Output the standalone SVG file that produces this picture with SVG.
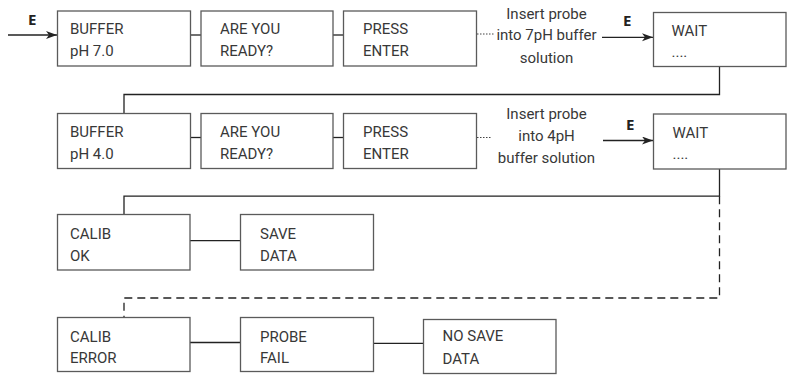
<svg xmlns="http://www.w3.org/2000/svg" width="791" height="375" viewBox="0 0 791 375">
<style>
.box{fill:#fff;stroke:#5a5a5a;stroke-width:1.3}
.t{font-family:Roboto,"Liberation Sans",sans-serif;font-size:15px;fill:#383838}
.c{font-family:Roboto,"Liberation Sans",sans-serif;font-size:15px;fill:#383838;text-anchor:middle}
.e{font-family:"Open Sans","Liberation Sans",sans-serif;font-size:15px;font-weight:bold;fill:#222}
.ln{fill:none;stroke:#222;stroke-width:1.3}
.dot{fill:none;stroke:#444;stroke-width:1.1;stroke-dasharray:1.5 1.5}
.dash{fill:none;stroke:#222;stroke-width:1.3;stroke-dasharray:8 5}
</style>
<defs>
<marker id="arr" markerWidth="12" markerHeight="10" refX="11" refY="4" orient="auto" markerUnits="userSpaceOnUse">
<path d="M0,0 L11,4 L0,8 L3,4 z" fill="#222"/>
</marker>
</defs>
<rect width="791" height="375" fill="#fff"/>
<g id="connectors">
<line class="ln" x1="8" y1="35" x2="57" y2="35" marker-end="url(#arr)"/>
<line class="ln" x1="190.5" y1="35" x2="201" y2="35"/>
<line class="ln" x1="333" y1="35" x2="343.5" y2="35"/>
<line class="dot" x1="477" y1="34" x2="495" y2="34"/>
<line class="ln" x1="602" y1="37.3" x2="653" y2="37.3" marker-end="url(#arr)"/>
<polyline class="ln" points="719.5,66 719.5,94.5 124,94.5 124,113.5"/>
<line class="ln" x1="190.5" y1="137.5" x2="201" y2="137.5"/>
<line class="ln" x1="333" y1="137.5" x2="343.5" y2="137.5"/>
<line class="dot" x1="477" y1="137.5" x2="492" y2="137.5"/>
<line class="ln" x1="603" y1="140.5" x2="653" y2="140.5" marker-end="url(#arr)"/>
<polyline class="ln" points="719.5,169 719.5,196.2 124,196.2 124,214.5"/>
<polyline class="dash" points="719.5,196.2 719.5,298 124,298 124,317.5"/>
<line class="ln" x1="190" y1="240.7" x2="240.5" y2="240.7"/>
<line class="ln" x1="190" y1="342.5" x2="240.5" y2="342.5"/>
<line class="ln" x1="373.5" y1="343.3" x2="423.5" y2="343.3"/>
</g>
<text class="e" x="623" y="26">E</text>
<text class="e" x="626" y="129.5">E</text>
<text class="e" x="28" y="25">E</text>
<g id="label1">
<text class="c" x="546.5" y="18.5">Insert probe</text>
<text class="c" x="546.5" y="39.5">into 7pH buffer</text>
<text class="c" x="546.5" y="63">solution</text>
</g>
<g id="label2">
<text class="c" x="546.5" y="118.5">Insert probe</text>
<text class="c" x="546.5" y="140.5">into 4pH</text>
<text class="c" x="546.5" y="163">buffer solution</text>
</g>
<g id="buffer7"><rect class="box" x="57.5" y="11" width="133" height="55"/><text class="t" x="70" y="34">BUFFER</text><text class="t" x="70" y="56">pH 7.0</text></g>
<g id="ready1"><rect class="box" x="201" y="11" width="132" height="55"/><text class="t" x="220" y="34">ARE YOU</text><text class="t" x="220" y="56">READY?</text></g>
<g id="press1"><rect class="box" x="343.5" y="11" width="133" height="55"/><text class="t" x="363" y="34">PRESS</text><text class="t" x="363" y="56">ENTER</text></g>
<g id="wait1"><rect class="box" x="653.5" y="12.5" width="132.5" height="54"/><text class="t" x="671.5" y="36">WAIT</text><text class="t" x="671.5" y="57">....</text></g>
<g id="buffer4"><rect class="box" x="57.5" y="113.5" width="133" height="55"/><text class="t" x="70" y="136.5">BUFFER</text><text class="t" x="70" y="158.5">pH 4.0</text></g>
<g id="ready2"><rect class="box" x="201" y="113.5" width="132" height="55"/><text class="t" x="220" y="136.5">ARE YOU</text><text class="t" x="220" y="158.5">READY?</text></g>
<g id="press2"><rect class="box" x="343.5" y="113.5" width="133" height="55"/><text class="t" x="363" y="136.5">PRESS</text><text class="t" x="363" y="158.5">ENTER</text></g>
<g id="wait2"><rect class="box" x="653.5" y="114" width="132.5" height="55"/><text class="t" x="672.5" y="138">WAIT</text><text class="t" x="672.5" y="158.5">....</text></g>
<g id="calibok"><rect class="box" x="57.5" y="214.5" width="132.5" height="55.5"/><text class="t" x="70" y="239">CALIB</text><text class="t" x="70" y="261">OK</text></g>
<g id="savedata"><rect class="box" x="240.5" y="214.5" width="133" height="55.5"/><text class="t" x="260" y="239">SAVE</text><text class="t" x="260" y="261">DATA</text></g>
<g id="caliberror"><rect class="box" x="57.5" y="317.5" width="132.5" height="54"/><text class="t" x="70" y="341.5">CALIB</text><text class="t" x="70" y="363">ERROR</text></g>
<g id="probefail"><rect class="box" x="240.5" y="317.5" width="133" height="54"/><text class="t" x="260" y="341.5">PROBE</text><text class="t" x="260" y="363">FAIL</text></g>
<g id="nosave"><rect class="box" x="423.5" y="319.5" width="132.5" height="54"/><text class="t" x="442.5" y="341">NO SAVE</text><text class="t" x="442.5" y="364">DATA</text></g>
</svg>
